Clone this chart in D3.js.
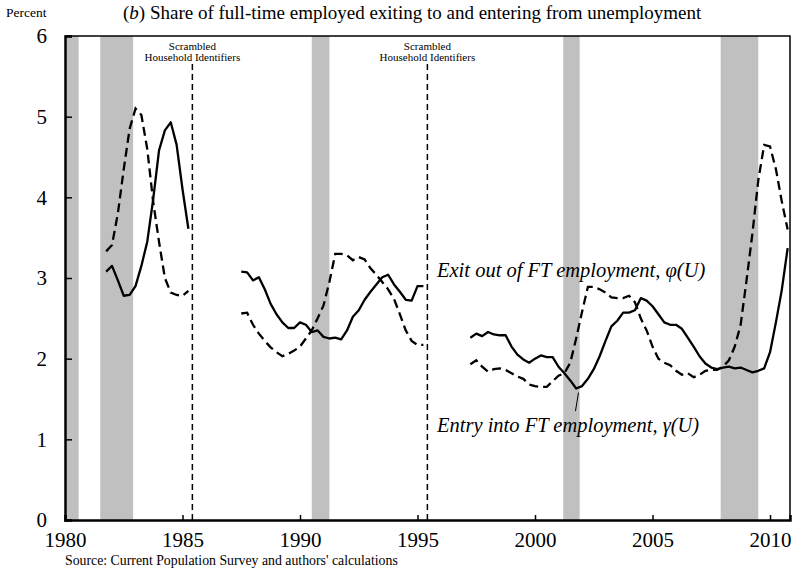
<!DOCTYPE html>
<html>
<head>
<meta charset="utf-8">
<script src="https://cdn.jsdelivr.net/npm/d3@7"></script>
<style>
  body { margin: 0; background: #fff; }
  svg { font-family: "Liberation Serif", "Times New Roman", serif; }
</style>
</head>
<body>
<svg id="viz" width="800" height="573"></svg>
<script>
// quarterly data, three separate periods (gaps = scrambled household ids)
var segStarts = [1981.75, 1987.5, 1997.25];

// Entry into FT employment, gamma(U)  (solid)
var entry1 = [3.08, 3.15, 2.97, 2.78, 2.79, 2.90, 3.15, 3.45, 3.97, 4.58, 4.83, 4.93, 4.65, 4.10, 3.61];
var entry2 = [3.08, 3.07, 2.97, 3.01, 2.86, 2.68, 2.55, 2.45, 2.38, 2.38, 2.45, 2.42, 2.33, 2.35, 2.27, 2.25,
              2.26, 2.24, 2.35, 2.52, 2.60, 2.73, 2.83, 2.92, 3.01, 3.04, 2.92, 2.83, 2.73, 2.72, 2.90, 2.90];
var entry3 = [2.26, 2.31, 2.28, 2.33, 2.30, 2.29, 2.29, 2.15, 2.05, 1.99, 1.95, 2.00, 2.04, 2.02, 2.02, 1.90,
              1.82, 1.73, 1.63, 1.66, 1.75, 1.87, 2.03, 2.22, 2.40, 2.47, 2.57, 2.57, 2.60, 2.75, 2.72, 2.65,
              2.55, 2.45, 2.42, 2.42, 2.37, 2.26, 2.15, 2.03, 1.94, 1.89, 1.87, 1.89, 1.90, 1.88, 1.89, 1.86,
              1.83, 1.85, 1.88, 2.08, 2.45, 2.85, 3.37];

// Exit out of FT employment, phi(U)  (dashed)
var exit1 = [3.33, 3.41, 3.80, 4.35, 4.85, 5.10, 5.02, 4.60, 3.95, 3.45, 3.00, 2.82, 2.79, 2.78, 2.84];
var exit2 = [2.56, 2.57, 2.42, 2.31, 2.22, 2.14, 2.08, 2.03, 2.06, 2.10, 2.15, 2.25, 2.35, 2.50, 2.66, 2.95,
             3.30, 3.30, 3.28, 3.22, 3.26, 3.23, 3.12, 3.04, 2.95, 2.86, 2.74, 2.55, 2.35, 2.22, 2.17, 2.17];
var exit3 = [1.93, 1.98, 1.90, 1.84, 1.87, 1.88, 1.86, 1.82, 1.78, 1.75, 1.68, 1.66, 1.65, 1.65, 1.72, 1.79,
             1.82, 1.95, 2.25, 2.58, 2.89, 2.89, 2.86, 2.82, 2.76, 2.75, 2.75, 2.78, 2.70, 2.50, 2.35, 2.15,
             2.00, 1.95, 1.92, 1.85, 1.80, 1.82, 1.77, 1.80, 1.85, 1.86, 1.86, 1.90, 1.98, 2.15, 2.42, 2.97,
             3.55, 4.21, 4.65, 4.63, 4.35, 3.95, 3.60];

// NBER recessions
var recessions = [[1980.0, 1980.58], [1981.5, 1982.9], [1990.5, 1991.25], [2001.2, 2001.9], [2007.9, 2009.5]];
var scrambledBreaks = [1985.42, 1995.42];
var xTicks = [1980, 1985, 1990, 1995, 2000, 2005, 2010];
var yTicks = [0, 1, 2, 3, 4, 5, 6];

var svg = d3.select("#viz");
var pLeft = 65, pRight = 790, pTop = 36, pBottom = 520;

var x = d3.scaleLinear().domain([1980, 2010.85]).range([pLeft, pRight]);
var y = d3.scaleLinear().domain([0, 6]).range([pBottom, pTop]);

function toPoints(start, vals) {
    return vals.map(function (v, i) { return { t: start + i * 0.25, v: v }; });
}

// recession shading
svg.append("g").selectAll("rect")
    .data(recessions)
    .enter()
    .append("rect")
    .attr("x", function (d) { return x(d[0]); })
    .attr("width", function (d) { return x(d[1]) - x(d[0]); })
    .attr("y", pTop)
    .attr("height", pBottom - pTop)
    .attr("fill", "#c0c0c0");

// scrambled id breaks
var brk = svg.append("g");
brk.selectAll("line")
    .data(scrambledBreaks)
    .enter()
    .append("line")
    .attr("x1", function (d) { return x(d); })
    .attr("x2", function (d) { return x(d); })
    .attr("y1", 64)
    .attr("y2", pBottom)
    .attr("stroke", "#000")
    .attr("stroke-width", 1.5)
    .attr("stroke-dasharray", "6,4");
brk.selectAll("text.l1")
    .data(scrambledBreaks)
    .enter()
    .append("text")
    .attr("x", function (d) { return x(d); })
    .attr("y", 50)
    .attr("text-anchor", "middle")
    .style("font-size", "11px")
    .text("Scrambled");
brk.selectAll("text.l2")
    .data(scrambledBreaks)
    .enter()
    .append("text")
    .attr("x", function (d) { return x(d); })
    .attr("y", 61)
    .attr("text-anchor", "middle")
    .style("font-size", "11px")
    .text("Household Identifiers");

var line = d3.line()
    .x(function (d) { return x(d.t); })
    .y(function (d) { return y(d.v); });

var entrySegs = [entry1, entry2, entry3];
var exitSegs = [exit1, exit2, exit3];

svg.append("g").selectAll("path")
    .data(exitSegs.map(function (s, i) { return toPoints(segStarts[i], s); }))
    .enter()
    .append("path")
    .attr("d", line)
    .attr("fill", "none")
    .attr("stroke", "#000")
    .attr("stroke-width", 2.3)
    .attr("stroke-dasharray", "9,5");

svg.append("g").selectAll("path")
    .data(entrySegs.map(function (s, i) { return toPoints(segStarts[i], s); }))
    .enter()
    .append("path")
    .attr("d", line)
    .attr("fill", "none")
    .attr("stroke", "#000")
    .attr("stroke-width", 2.3)
    .attr("stroke-linejoin", "round");

// frame
svg.append("path")
    .attr("d", "M" + pLeft + "," + pTop + "H" + pRight + "V" + pBottom)
    .attr("fill", "none")
    .attr("stroke", "#000")
    .attr("stroke-width", 1.5);

// axes
var xAxis = d3.axisBottom(x).tickValues(xTicks).tickFormat(d3.format("d")).tickSize(-5).tickPadding(12);
var gx = svg.append("g").attr("transform", "translate(0," + pBottom + ")").call(xAxis)
    .attr("font-family", null).attr("font-size", null);
gx.select(".domain").attr("stroke-width", 2.5);
gx.selectAll(".tick line").attr("stroke-width", 1.5);
gx.selectAll("text").style("font-size", "21px").attr("fill", "#000");

var yAxis = d3.axisLeft(y).tickValues(yTicks).tickFormat(d3.format("d")).tickSize(-7).tickPadding(18);
var gy = svg.append("g").attr("transform", "translate(" + pLeft + ",0)").call(yAxis)
    .attr("font-family", null).attr("font-size", null);
gy.select(".domain").attr("stroke-width", 2.5);
gy.selectAll(".tick line").attr("stroke-width", 1.5);
gy.selectAll("text").style("font-size", "21px").attr("fill", "#000");

// titles
svg.append("text")
    .attr("x", 6).attr("y", 17)
    .style("font-size", "13.5px")
    .text("Percent");

var title = svg.append("text")
    .attr("x", 123).attr("y", 19)
    .style("font-size", "19px");
title.append("tspan").text("(");
title.append("tspan").style("font-style", "italic").text("b");
title.append("tspan").text(") Share of full-time employed exiting to and entering from unemployment");

svg.append("text")
    .attr("x", 65).attr("y", 565)
    .style("font-size", "13.8px")
    .text("Source: Current Population Survey and authors' calculations");

// series labels
svg.append("text")
    .attr("x", 437).attr("y", 277)
    .style("font-size", "20.5px")
    .style("font-style", "italic")
    .text("Exit out of FT employment, \u03C6(U)");

svg.append("text")
    .attr("x", 437).attr("y", 432)
    .style("font-size", "20.5px")
    .style("font-style", "italic")
    .text("Entry into FT employment, \u03B3(U)");

svg.append("line")
    .attr("x1", x(2001.85)).attr("y1", y(1.58))
    .attr("x2", x(2001.72)).attr("y2", y(1.35))
    .attr("stroke", "#000")
    .attr("stroke-width", 1);
</script>
</body>
</html>
